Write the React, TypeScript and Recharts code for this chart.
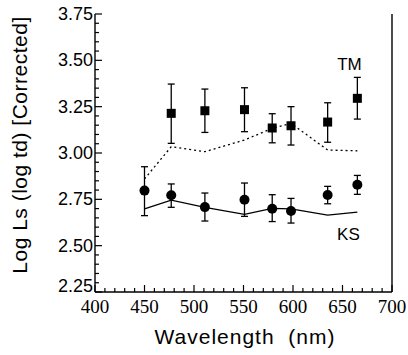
import { ComposedChart, Line, Scatter, ErrorBar, XAxis, YAxis, ReferenceDot } from 'recharts'

// wavelengths (nm)
const wlAll = [450, 477, 511, 551, 579, 598, 635, 665]
const wlTM = [477, 511, 551, 579, 598, 635, 665]

// TM measured (squares) with error bar limits
const tmMean = [3.214, 3.228, 3.234, 3.135, 3.147, 3.167, 3.295]
const tmLow = [3.052, 3.111, 3.115, 3.055, 3.043, 3.058, 3.183]
const tmHigh = [3.372, 3.345, 3.352, 3.212, 3.25, 3.271, 3.408]
// TM prediction (dotted)
const tmFit = [2.86, 3.034, 3.007, 3.07, 3.133, 3.16, 3.016, 3.012]

// KS measured (circles)
const ksMean = [2.797, 2.772, 2.708, 2.748, 2.699, 2.687, 2.773, 2.829]
const ksLow = [2.662, 2.707, 2.633, 2.658, 2.63, 2.622, 2.726, 2.777]
const ksHigh = [2.926, 2.833, 2.784, 2.838, 2.775, 2.755, 2.82, 2.879]
// KS prediction (solid)
const ksFit = [2.698, 2.746, 2.707, 2.669, 2.701, 2.698, 2.665, 2.681]

const xMajor = [400, 450, 500, 550, 600, 650, 700]
const yMajor = [2.25, 2.5, 2.75, 3.0, 3.25, 3.5, 3.75]
const yLabels = ['2.25', '2.50', '2.75', '3.00', '3.25', '3.50', '3.75']

const xTicks: number[] = []
for (let v = 400; v <= 700; v += 10) xTicks.push(v)
const yTicks: number[] = []
for (let i = 0; i <= 30; i++) yTicks.push(Math.round((2.25 + i * 0.05) * 100) / 100)

const tmData = wlTM.map((x, i) => ({ x, y: tmMean[i], err: [tmMean[i] - tmLow[i], tmHigh[i] - tmMean[i]] }))
const ksData = wlAll.map((x, i) => ({ x, y: ksMean[i], err: [ksMean[i] - ksLow[i], ksHigh[i] - ksMean[i]] }))
const tmFitData = wlAll.map((x, i) => ({ x, y: tmFit[i] }))
const ksFitData = wlAll.map((x, i) => ({ x, y: ksFit[i] }))

const isMajorX = (v: number) => xMajor.includes(v)
const majorYIndex = (v: number) => yMajor.findIndex((m) => Math.abs(m - v) < 1e-6)

const sans = "'Liberation Sans', Arial, sans-serif"

const BottomTick = (p: any) => {
  const major = isMajorX(p.payload.value)
  return (
    <g>
      <line x1={p.x} y1={p.y} x2={p.x} y2={p.y - (major ? 7 : 4)} stroke="#000" strokeWidth={1.2} />
      {major && (
        <text x={p.x} y={p.y + 21} textAnchor="middle" fontFamily="'Liberation Serif', serif" fontSize={19} fill="#000">
          {p.payload.value}
        </text>
      )}
    </g>
  )
}

const TopTick = (p: any) => {
  const major = isMajorX(p.payload.value)
  return <line x1={p.x} y1={p.y} x2={p.x} y2={p.y + (major ? 7 : 4)} stroke="#000" strokeWidth={1} />
}

const LeftTick = (p: any) => {
  const idx = majorYIndex(p.payload.value)
  // the lowest label sits just above the x axis in the original
  const dy = idx === 0 ? 0 : 6
  return (
    <g>
      <line x1={p.x} y1={p.y} x2={p.x + (idx >= 0 ? 7 : 4)} y2={p.y} stroke="#000" strokeWidth={1.2} />
      {idx >= 0 && (
        <text x={p.x - 2} y={p.y + dy} textAnchor="end" fontFamily={sans} fontSize={18} fill="#000">
          {yLabels[idx]}
        </text>
      )}
    </g>
  )
}

const RightTick = (p: any) => {
  const idx = majorYIndex(p.payload.value)
  return <line x1={p.x} y1={p.y} x2={p.x - (idx >= 0 ? 7 : 4)} y2={p.y} stroke="#000" strokeWidth={1} />
}

const Square = (p: any) => <rect x={p.cx - 4.5} y={p.cy - 4.5} width={9} height={9} fill="#000" />
const Dot = (p: any) => <circle cx={p.cx} cy={p.cy} r={5} fill="#000" />

export default function App() {
  return (
    <div style={{ position: 'absolute', left: 0, top: 0, background: '#fff' }}>
      <ComposedChart width={408} height={355} margin={{ top: 14, right: 0, bottom: 0, left: 0 }}>
        <XAxis
          xAxisId="b"
          dataKey="x"
          type="number"
          domain={[400, 700]}
          ticks={xTicks}
          interval={0}
          height={63}
          tickSize={0}
          tickMargin={0}
          tick={<BottomTick />}
          axisLine={{ stroke: '#000', strokeWidth: 1.4 }}
          label={{
            content: () => (
              <text
                x={245}
                y={344}
                textAnchor="middle"
                fontFamily={sans}
                fontSize={21}
                letterSpacing={1}
                fill="#000"
                style={{ whiteSpace: 'pre' }}
              >
                {'Wavelength  (nm)'}
              </text>
            ),
          }}
        />
        <XAxis
          xAxisId="t"
          orientation="top"
          dataKey="x"
          type="number"
          domain={[400, 700]}
          ticks={xTicks}
          interval={0}
          height={0}
          tickSize={0}
          tickMargin={0}
          tick={<TopTick />}
          axisLine={{ stroke: '#000', strokeWidth: 1.4 }}
        />
        <YAxis
          yAxisId="l"
          type="number"
          domain={[2.25, 3.75]}
          ticks={yTicks}
          interval={0}
          width={95}
          tickSize={0}
          tickMargin={0}
          tick={<LeftTick />}
          axisLine={{ stroke: '#000', strokeWidth: 1.4 }}
          label={{
            content: () => (
              <text
                x={27}
                y={145}
                transform="rotate(-90 27 145)"
                textAnchor="middle"
                fontFamily={sans}
                fontSize={21}
                letterSpacing={0.5}
                fill="#000"
              >
                Log Ls (log td) [Corrected]
              </text>
            ),
          }}
        />
        <YAxis
          yAxisId="r"
          orientation="right"
          type="number"
          domain={[2.25, 3.75]}
          ticks={yTicks}
          interval={0}
          width={16}
          tickSize={0}
          tickMargin={0}
          tick={<RightTick />}
          axisLine={{ stroke: '#000', strokeWidth: 1.4 }}
        />
        <Line
          xAxisId="b"
          yAxisId="l"
          data={tmFitData}
          dataKey="y"
          type="linear"
          stroke="#000"
          strokeWidth={1.3}
          strokeDasharray="2 3"
          dot={false}
          activeDot={false}
          isAnimationActive={false}
        />
        <Line
          xAxisId="b"
          yAxisId="l"
          data={ksFitData}
          dataKey="y"
          type="linear"
          stroke="#000"
          strokeWidth={1.3}
          dot={false}
          activeDot={false}
          isAnimationActive={false}
        />
        <Scatter xAxisId="b" yAxisId="l" data={tmData} dataKey="y" shape={<Square />} isAnimationActive={false}>
          <ErrorBar dataKey="err" direction="y" width={3.5} stroke="#000" strokeWidth={1.3} isAnimationActive={false} />
        </Scatter>
        <Scatter xAxisId="b" yAxisId="l" data={ksData} dataKey="y" shape={<Dot />} isAnimationActive={false}>
          <ErrorBar dataKey="err" direction="y" width={3.5} stroke="#000" strokeWidth={1.3} isAnimationActive={false} />
        </Scatter>
        <ReferenceDot
          xAxisId="b"
          yAxisId="l"
          x={657}
          y={3.48}
          r={0}
          label={{ value: 'TM', position: 'center', fontFamily: sans, fontSize: 17, fill: '#000' }}
        />
        <ReferenceDot
          xAxisId="b"
          yAxisId="l"
          x={656}
          y={2.565}
          r={0}
          label={{ value: 'KS', position: 'center', fontFamily: sans, fontSize: 17, fill: '#000' }}
        />
      </ComposedChart>
    </div>
  )
}
